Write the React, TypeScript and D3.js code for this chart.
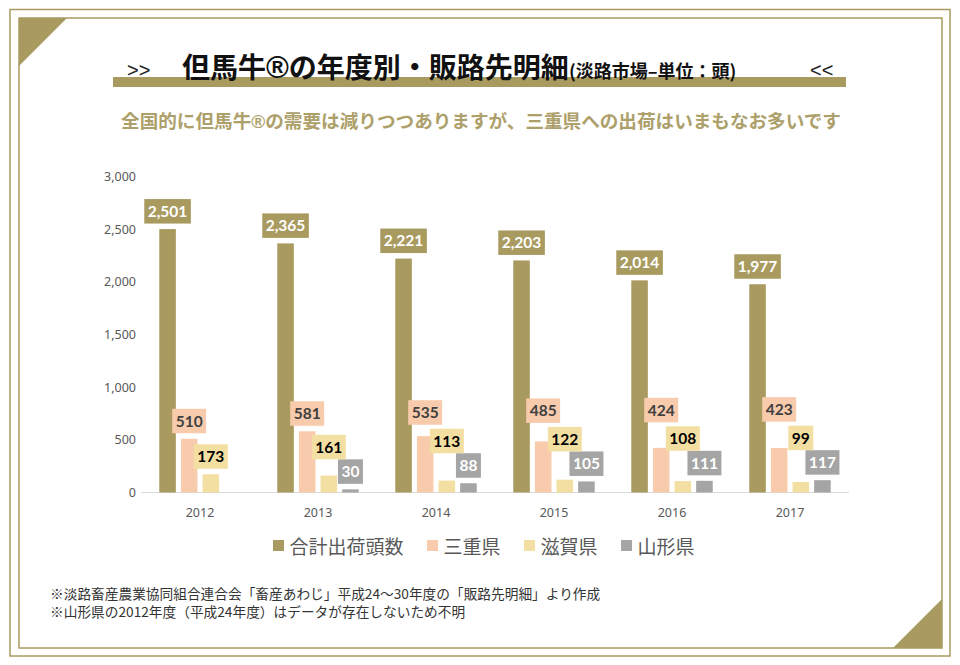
import React, { useEffect, useRef } from "react";
import * as d3 from "d3";

// ---------- data ----------
const years = ["2012", "2013", "2014", "2015", "2016", "2017"];
const seriesNames = ["合計出荷頭数", "三重県", "滋賀県", "山形県"];
const totalValues = [2501, 2365, 2221, 2203, 2014, 1977];
const mieValues = [510, 581, 535, 485, 424, 423];
const shigaValues = [173, 161, 113, 122, 108, 99];
const yamagataValues: (number | null)[] = [null, 30, 88, 105, 111, 117];
const yTicks = [0, 500, 1000, 1500, 2000, 2500, 3000];

const titleParts = ["但馬牛", "®", "の年度別・販路先明細"];
const titleUnit = "(淡路市場–単位：頭)";
const subtitleParts = ["全国的に但馬牛", "®", "の需要は減りつつありますが、三重県への出荷はいまもなお多いです"];
const notes = [
  "※淡路畜産農業協同組合連合会「畜産あわじ」平成24〜30年度の「販路先明細」より作成",
  "※山形県の2012年度（平成24年度）はデータが存在しないため不明",
];

// ---------- styles ----------
const GOLD = "#a99b60";
const seriesColors = ["#a99b60", "#f8cbad", "#f3dfa2", "#a5a5a5"];
const labelTextColors = ["#ffffff", "#404040", "#000000", "#ffffff"];
const labelGapAbove = [0, 4, 0, 0];
const JP = "'Noto Sans CJK JP', 'Noto Sans', sans-serif";
const NUM = "Lato, 'Noto Sans', sans-serif";
const LIB = "'Liberation Sans', sans-serif";

export default function App() {
  const ref = useRef<SVGSVGElement>(null);

  useEffect(() => {
    document.body.style.margin = "0";
    const svg = d3.select(ref.current);
    svg.selectAll("*").remove();

    // frame
    svg.append("rect").attr("x", 10).attr("y", 9.5).attr("width", 940).attr("height", 646.5)
      .attr("fill", "none").attr("stroke", GOLD).attr("stroke-width", 1.5);
    svg.append("rect").attr("x", 19).attr("y", 18).attr("width", 923).attr("height", 630)
      .attr("fill", "none").attr("stroke", GOLD).attr("stroke-width", 1.5);
    svg.append("path").attr("d", "M19,18 L67,18 L19,66 Z").attr("fill", GOLD);
    svg.append("path").attr("d", "M942,599 L942,648 L893,648 Z").attr("fill", GOLD);

    // title
    svg.append("rect").attr("x", 113).attr("y", 77).attr("width", 733).attr("height", 10).attr("fill", GOLD);
    svg.append("text").attr("x", 127).attr("y", 77).attr("font-family", LIB)
      .attr("font-size", 20).attr("fill", "#222").text(">>");
    svg.append("text").attr("x", 810).attr("y", 77).attr("font-family", LIB)
      .attr("font-size", 20).attr("fill", "#222").text("<<");
    const t = svg.append("text").attr("x", 182).attr("y", 78).attr("font-family", JP)
      .attr("font-weight", 700).attr("fill", "#111").attr("font-size", 28);
    t.append("tspan").text(titleParts[0]);
    t.append("tspan").attr("font-family", LIB).attr("font-size", 31).text(titleParts[1]);
    t.append("tspan").text(titleParts[2]);
    t.append("tspan").attr("font-size", 18).text(titleUnit);

    const st = svg.append("text").attr("x", 481).attr("y", 128).attr("text-anchor", "middle")
      .attr("font-family", JP).attr("font-weight", 700).attr("font-size", 18.6)
      .attr("fill", "#ada06a");
    st.append("tspan").text(subtitleParts[0]);
    st.append("tspan").attr("font-family", LIB).attr("font-size", 19).text(subtitleParts[1]);
    st.append("tspan").text(subtitleParts[2]);

    // scales
    const x0 = d3.scaleBand<string>().domain(years).range([141, 849]).paddingInner(0.31).paddingOuter(0.155);
    const x1 = d3.scaleBand<string>().domain(seriesNames).range([0, x0.bandwidth()]).paddingInner(0.235);
    const y = d3.scaleLinear().domain([0, 3000]).range([492.5, 176.5]);

    // y ticks
    svg.append("g").selectAll("text").data(yTicks).join("text")
      .attr("x", 136).attr("y", (d) => y(d)).attr("dy", "0.36em").attr("text-anchor", "end")
      .attr("font-family", "'Noto Sans', sans-serif").attr("font-size", 12.5).attr("fill", "#595959")
      .text((d) => d3.format(",")(d));

    // baseline
    svg.append("line").attr("x1", 141).attr("x2", 849).attr("y1", y(0)).attr("y2", y(0))
      .attr("stroke", "#d9d9d9").attr("stroke-width", 1.2);

    // x labels
    svg.append("g").selectAll("text").data(years).join("text")
      .attr("x", (d) => (x0(d) as number) + x0.bandwidth() / 2).attr("y", 516.5)
      .attr("text-anchor", "middle").attr("font-family", "'Noto Sans', sans-serif")
      .attr("font-size", 12.5).attr("fill", "#595959").text((d) => d);

    const allSeries = [totalValues, mieValues, shigaValues, yamagataValues];

    const barsG = svg.append("g");
    const labelsG = svg.append("g");
    years.forEach((yr, i) => {
      const gx = x0(yr) as number;
      allSeries.forEach((vals, s) => {
        const v = vals[i];
        if (v == null) return;
        barsG.append("rect").attr("x", gx + (x1(seriesNames[s]) as number)).attr("y", y(v))
          .attr("width", x1.bandwidth()).attr("height", y(0) - y(v)).attr("fill", seriesColors[s]);
      });
      // labels, placed right-to-left so they do not overlap
      let nextTop: number | null = null;
      for (let s = allSeries.length - 1; s >= 0; s--) {
        const v = allSeries[s][i];
        if (v == null) continue;
        let bottom = y(v) - 5.5;
        if (nextTop != null) bottom = Math.min(bottom, nextTop - labelGapAbove[s]);
        const h = 24.5;
        const top = bottom - h;
        const cx = gx + (x1(seriesNames[s]) as number) + x1.bandwidth() / 2;
        const g = labelsG.append("g");
        const rect = g.append("rect").attr("fill", seriesColors[s]);
        const txt = g.append("text").attr("x", cx).attr("y", top + h / 2).attr("dy", "0.36em")
          .attr("text-anchor", "middle").attr("font-family", NUM).attr("font-weight", 700)
          .attr("font-size", 15.5).attr("fill", labelTextColors[s]).text(d3.format(",")(v));
        const w = (txt.node() as SVGTextElement).getComputedTextLength() + 7;
        rect.attr("x", cx - w / 2).attr("y", top).attr("width", w).attr("height", h);
        nextTop = top;
      }
    });

    // legend
    let lx = 273;
    const legendG = svg.append("g");
    seriesNames.forEach((name, s) => {
      legendG.append("rect").attr("x", lx).attr("y", 540).attr("width", 11).attr("height", 11)
        .attr("fill", seriesColors[s]);
      const tt = legendG.append("text").attr("x", lx + 16.5).attr("y", 553.5)
        .attr("font-family", JP).attr("font-size", 19).attr("fill", "#595959").text(name);
      lx += 16.5 + (tt.node() as SVGTextElement).getComputedTextLength() + 23.5;
    });

    // notes
    svg.append("g").selectAll("text").data(notes).join("text")
      .attr("x", 50).attr("y", (d, i) => 599 + i * 18).attr("font-family", JP)
      .attr("font-size", 13.7).attr("fill", "#333").text((d) => d);
  }, []);

  return (
    <svg ref={ref} width={960} height={665} style={{ display: "block", background: "#fff" }} />
  );
}
